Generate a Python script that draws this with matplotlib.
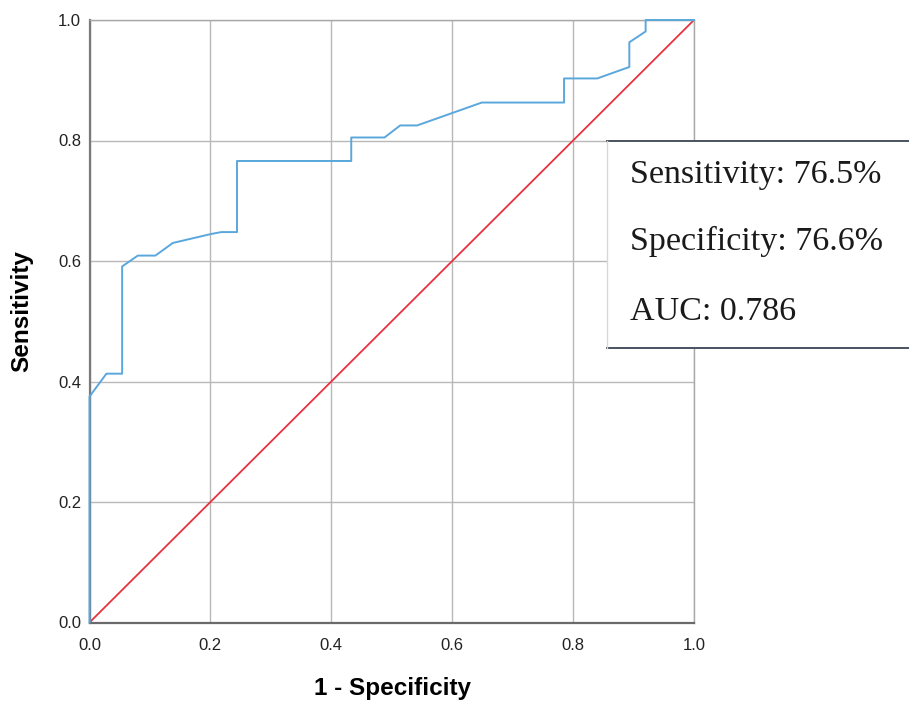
import matplotlib
matplotlib.use("Agg")
import matplotlib.pyplot as plt
from matplotlib.patches import Rectangle
from matplotlib.lines import Line2D

# ROC curve points (1 - specificity, sensitivity)
fpr = [0.0, 0.0, 0.028, 0.054, 0.054, 0.080, 0.109, 0.138, 0.202, 0.218, 0.244, 0.244,
       0.433, 0.433, 0.488, 0.514, 0.542, 0.649, 0.785, 0.785, 0.840, 0.893, 0.893,
       0.920, 0.920, 1.0]
tpr = [0.0, 0.375, 0.413, 0.413, 0.591, 0.609, 0.609, 0.630, 0.645, 0.648, 0.648, 0.766,
       0.766, 0.805, 0.805, 0.825, 0.825, 0.863, 0.863, 0.903, 0.903, 0.922, 0.963,
       0.981, 1.0, 1.0]
ref_line = [0.0, 1.0]
ticks = [0.0, 0.2, 0.4, 0.6, 0.8, 1.0]
tick_labels = ["0.0", "0.2", "0.4", "0.6", "0.8", "1.0"]
stats = ["Sensitivity: 76.5%", "Specificity: 76.6%", "AUC: 0.786"]

W, H = 909, 704
fig = plt.figure(figsize=(W / 100, H / 100), dpi=100)
ax = fig.add_axes([89.5 / W, 1 - 622.5 / H, (694 - 89.5) / W, (622.5 - 20) / H])

ax.plot(fpr, tpr, color="#5aa7dc", lw=1.4, zorder=3, clip_on=False)
ax.plot(ref_line, ref_line, color="#e8313f", lw=1.3, zorder=2)

ax.set_xlim(0, 1)
ax.set_ylim(0, 1)
ax.set_xticks(ticks)
ax.set_yticks(ticks)
ax.set_xticklabels(tick_labels, fontfamily="Liberation Sans", fontsize=12, color="#222222")
ax.set_yticklabels(tick_labels, fontfamily="Liberation Sans", fontsize=12, color="#222222")
ax.tick_params(axis="x", length=0, pad=11)
ax.tick_params(axis="y", length=0, pad=6)
ax.grid(True, color="#b8b8b8", lw=1.0)
ax.set_axisbelow(True)
for s in ax.spines.values():
    s.set_color("#a8a8a8")
    s.set_linewidth(1.0)
ax.spines["left"].set_color("#7a7a7a")
ax.spines["left"].set_linewidth(1.6)
ax.spines["bottom"].set_color("#6a6a6a")
ax.spines["bottom"].set_linewidth(1.6)

fig.text(22 / W, 1 - 311 / H, "Sensitivity", rotation=90, ha="center", va="center",
         fontfamily="Liberation Sans", fontweight="bold", fontsize=17.5)
fig.text(392 / W, 1 - 689 / H, "1 - Specificity", ha="center", va="center",
         fontfamily="Liberation Sans", fontweight="bold", fontsize=17.5)

# stats box
x0, y0, x1, y1 = 607, 141, 915, 348
fig.patches.append(Rectangle((x0 / W, 1 - y1 / H), (x1 - x0) / W, (y1 - y0) / H,
                             transform=fig.transFigure, facecolor="white",
                             edgecolor="none", zorder=5))
fig.lines.append(Line2D([x0 / W, 1], [1 - y0 / H, 1 - y0 / H], transform=fig.transFigure,
                        color="#4a5260", lw=1.4, zorder=6))
fig.lines.append(Line2D([x0 / W, 1], [1 - y1 / H, 1 - y1 / H], transform=fig.transFigure,
                        color="#4a5260", lw=1.4, zorder=6))
fig.lines.append(Line2D([x0 / W, x0 / W], [1 - y1 / H, 1 - y0 / H], transform=fig.transFigure,
                        color="#d8d8d8", lw=1.0, zorder=6))
for i, s in enumerate(stats):
    yb = [183, 250, 320][i]
    fig.text(630 / W, 1 - yb / H, s, ha="left", va="baseline",
             fontfamily="Liberation Serif", fontsize=24.5, color="#1a1a1a", zorder=7)

fig.savefig("out.png", dpi=100, facecolor="white")
